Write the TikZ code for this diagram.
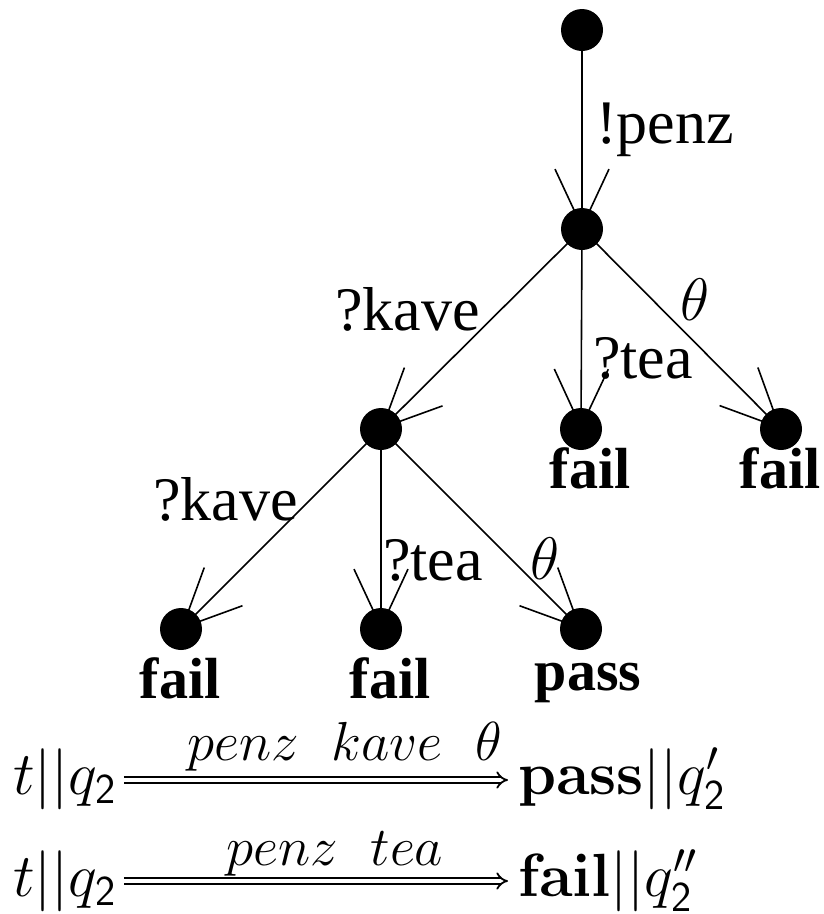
\RequirePackage{fix-cm}
\documentclass[tikz,border=0pt]{standalone}
\usepackage[no-math]{fontspec}
\newfontfamily\timesfont{Liberation Serif}
\usetikzlibrary{arrows.meta,backgrounds}

\tikzset{
	state/.style={circle,fill=black,inner sep=0pt,minimum size=42pt},
	trans/.style={line width=1.6pt,-{Straight Barb[length=58pt,width=54pt]}},
	act/.style={inner sep=0pt,anchor=base west,font=\timesfont\fontsize{62}{70}\selectfont},
	tick/.style={inner sep=0pt,anchor=base west,font=\fontsize{60}{70}\selectfont},
	verdict/.style={inner sep=0pt,anchor=base,font=\timesfont\bfseries\fontsize{58}{64}\selectfont},
	run/.style={inner sep=0pt,anchor=base west,font=\fontsize{61}{70}\selectfont},
	word/.style={inner sep=0pt,anchor=base west,font=\fontsize{55}{64}\selectfont},
	derive/.style={double,double distance=4pt,line width=1.8pt,-Implies,shorten <=8pt,shorten >=10pt},
}

\begin{document}
\begin{tikzpicture}[x=1pt,y=-1pt]
	\useasboundingbox (0,0) rectangle (823,914);

	% test tree
	\node[state] (s0) at (582,30) {};
	\node[state] (s1) at (582,229) {};
	\node[state] (s2) at (381,429) {};
	\node[state] (s3) at (581,429) {};
	\node[state] (s4) at (781,429) {};
	\node[state] (s5) at (181,629) {};
	\node[state] (s6) at (381,629) {};
	\node[state] (s7) at (581,629) {};

	\begin{scope}[on background layer]
		\draw[trans] (s0.center) -- (s1.center);
		\draw[trans] (s1.center) -- (s2.center);
		\draw[trans] (s1.center) -- (s3.center);
		\draw[trans] (s1.center) -- (s4.center);
		\draw[trans] (s2.center) -- (s5.center);
		\draw[trans] (s2.center) -- (s6.center);
		\draw[trans] (s2.center) -- (s7.center);
	\end{scope}

	\node[act] (penz) at (596,143) {!penz};
	\node[act] (kave1) at (335,330) {?kave};
	\node[act] (tea1) at (593,378) {?tea};
	\node[tick] (th1) at (680,320) {$\theta$};
	\node[act] (kave2) at (153,520) {?kave};
	\node[act] (tea2) at (383,580) {?tea};
	\node[tick] (th2) at (530,579) {$\theta$};

	\node[verdict] (f3) at (590,488) {fail};
	\node[verdict] (f4) at (780,488) {fail};
	\node[verdict] (f5) at (180,698) {fail};
	\node[verdict] (f6) at (390,698) {fail};
	\node[verdict] (p7) at (588,690) {pass};

	% derivations
	\node[run] (lhs1) at (13,794) {$t||q_{\mathsf{2}}$};
	\node[run] (rhs1) at (518,794) {$\mathbf{pass}||q'_{\mathsf{2}}$};
	\draw[derive] ([yshift=14pt]lhs1.base east) -- ([yshift=14pt]rhs1.base west);
	\node[word] (w1) at (187,760) {$penz\hspace{0.6em}kave\hspace{0.6em}\theta$};

	\node[run] (lhs2) at (13,896) {$t||q_{\mathsf{2}}$};
	\node[run] (rhs2) at (518,896) {$\mathbf{fail}||q''_{\mathsf{2}}$};
	\draw[derive] ([yshift=15pt]lhs2.base east) -- ([yshift=15pt]rhs2.base west);
	\node[word] (w2) at (226,865) {$penz\hspace{0.6em}tea$};
\end{tikzpicture}
\end{document}
